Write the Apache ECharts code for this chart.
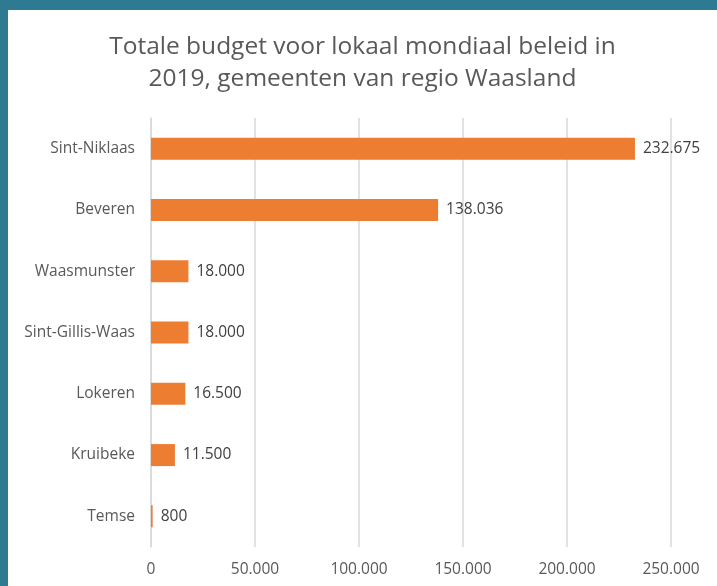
<!DOCTYPE html>
<html>
<head>
<meta charset="utf-8">
<script src="https://cdn.jsdelivr.net/npm/echarts@6/dist/echarts.min.js"></script>
<style>
  html, body { margin: 0; padding: 0; }
  body { width: 717px; height: 586px; background: #2f7a93; position: relative; overflow: hidden; }
  #main { position: absolute; left: 8px; top: 10px; width: 709px; height: 576px; background: #fff; }
</style>
</head>
<body>
<div id="main"></div>
<script>
// gemeenten (van onder naar boven zoals in de grafiek)
const gemeenten = ['Temse', 'Kruibeke', 'Lokeren', 'Sint-Gillis-Waas', 'Waasmunster', 'Beveren', 'Sint-Niklaas']
const budget = [800, 11500, 16500, 18000, 18000, 138036, 232675]
const xTicks = [0, 50000, 100000, 150000, 200000, 250000]

// 232675 -> 232.675
function fmt(v) {
  return String(v).replace(/\B(?=(\d{3})+(?!\d))/g, '.')
}

const chart = echarts.init(document.getElementById('main'))
chart.setOption({
  animation: false,
  backgroundColor: '#fff',
  textStyle: { fontFamily: 'Open Sans' },
  title: {
    text: 'Totale budget voor lokaal mondiaal beleid in\n2019, gemeenten van regio Waasland',
    left: 'center',
    top: 16,
    textStyle: { fontSize: 24.5, fontWeight: 'normal', color: '#595959', lineHeight: 32, fontFamily: 'Open Sans' }
  },
  grid: { left: 143, right: 46, top: 108, bottom: 39 },
  xAxis: {
    type: 'value',
    min: xTicks[0],
    max: xTicks[xTicks.length - 1],
    interval: 50000,
    axisLine: { show: false },
    axisTick: { show: false },
    splitLine: { lineStyle: { color: '#d9d9d9', width: 1.5 } },
    axisLabel: { color: '#595959', fontSize: 15.5, margin: 15, formatter: fmt }
  },
  yAxis: {
    type: 'category',
    data: gemeenten,
    axisLine: { show: true, lineStyle: { color: '#d9d9d9', width: 1.5 } },
    axisTick: { show: false },
    axisLabel: { color: '#595959', fontSize: 15.5, margin: 16 }
  },
  series: [{
    type: 'bar',
    data: budget,
    barWidth: 22,
    itemStyle: { color: '#ed7d31' },
    label: {
      show: true,
      position: 'right',
      distance: 8,
      color: '#404040',
      fontSize: 15.5,
      formatter: p => fmt(p.value)
    }
  }]
})
</script>
</body>
</html>
